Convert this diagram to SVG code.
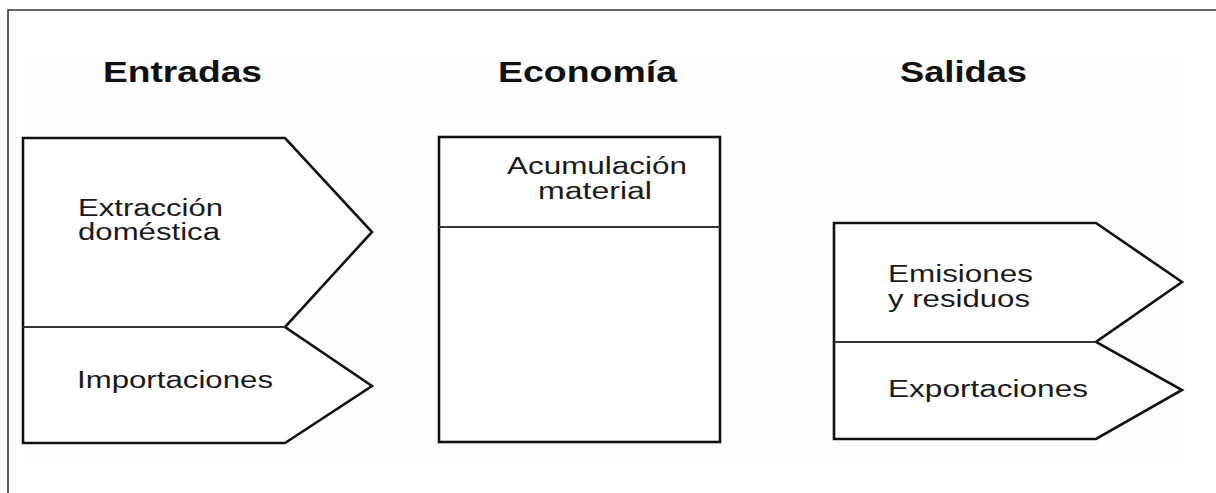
<svg xmlns="http://www.w3.org/2000/svg" width="1216" height="493" viewBox="0 0 1216 493">
<style>
.frame{fill:none;stroke:#333;stroke-width:1.6}
.shape{fill:#fff;stroke:#111;stroke-width:2.6;stroke-linejoin:miter}
.div{stroke:#333;stroke-width:2.2}
.title{font-family:"Liberation Sans",Arial,sans-serif;font-weight:bold;font-size:30px;fill:#111}
.lbl{font-family:"Liberation Sans",Arial,sans-serif;font-size:23px;fill:#1a1a1a}
</style>
<rect width="1216" height="493" fill="#fff"/>
<rect x="23" y="57" width="1160" height="405" fill="#fdfdfd"/>
<path class="frame" d="M8,493 L8,10 L1216,10"/>
<g id="titles">
<text class="title" x="103" y="82" textLength="159" lengthAdjust="spacingAndGlyphs">Entradas</text>
<text class="title" x="498" y="82" textLength="179" lengthAdjust="spacingAndGlyphs">Economía</text>
<text class="title" x="900" y="82" textLength="127" lengthAdjust="spacingAndGlyphs">Salidas</text>
</g>
<g id="entradas">
<path class="shape" d="M23,138 L285,138 L372,232 L285,327 L372,386 L285,443 L23,443 Z"/>
<line class="div" x1="23" y1="327" x2="285" y2="327"/>
</g>
<g id="extraccion">
<text class="lbl" x="78" y="216" textLength="145" lengthAdjust="spacingAndGlyphs">Extracción</text>
<text class="lbl" x="78" y="240" textLength="142" lengthAdjust="spacingAndGlyphs">doméstica</text>
</g>
<g id="importaciones">
<text class="lbl" x="77" y="388" textLength="196" lengthAdjust="spacingAndGlyphs">Importaciones</text>
</g>
<g id="economia">
<rect class="shape" x="439" y="137" width="281" height="305"/>
<line class="div" x1="439" y1="227" x2="720" y2="227"/>
</g>
<g id="acumulacion">
<text class="lbl" x="507" y="174" textLength="180" lengthAdjust="spacingAndGlyphs">Acumulación</text>
<text class="lbl" x="538" y="199" textLength="114" lengthAdjust="spacingAndGlyphs">material</text>
</g>
<g id="salidas">
<path class="shape" d="M834,223 L1096,223 L1182,282 L1096,342 L1182,390 L1096,439 L834,439 Z"/>
<line class="div" x1="834" y1="342" x2="1096" y2="342"/>
</g>
<g id="emisiones">
<text class="lbl" x="888" y="282" textLength="145" lengthAdjust="spacingAndGlyphs">Emisiones</text>
<text class="lbl" x="888" y="307" textLength="142" lengthAdjust="spacingAndGlyphs">y residuos</text>
</g>
<g id="exportaciones">
<text class="lbl" x="888" y="397" textLength="200" lengthAdjust="spacingAndGlyphs">Exportaciones</text>
</g>
<g id="connectors"></g>
</svg>
